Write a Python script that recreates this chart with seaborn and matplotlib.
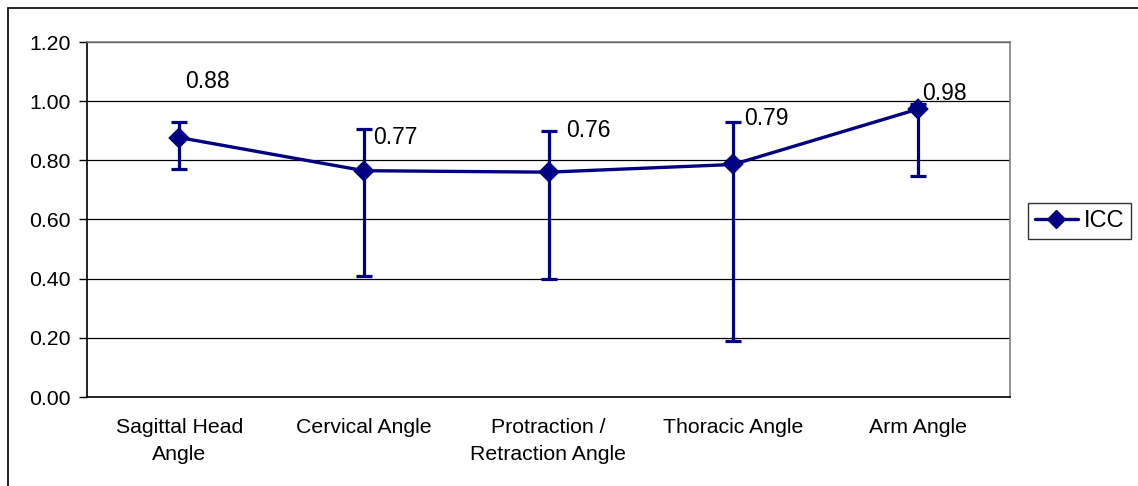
import numpy as np
import pandas as pd
import matplotlib.pyplot as plt
import seaborn as sns
from matplotlib.lines import Line2D
from matplotlib.patches import Rectangle

# data
categories = ["Sagittal Head\nAngle", "Cervical Angle", "Protraction /\nRetraction Angle",
              "Thoracic Angle", "Arm Angle"]
icc = [0.877, 0.765, 0.760, 0.786, 0.973]
ci_lower = [0.770, 0.410, 0.400, 0.190, 0.746]
ci_upper = [0.930, 0.905, 0.900, 0.928, 0.990]
value_labels = ["0.88", "0.77", "0.76", "0.79", "0.98"]

navy = "#000080"

sns.set_style("white")
plt.rcParams['font.family'] = ['Liberation Sans', 'DejaVu Sans']
plt.rcParams['text.color'] = 'black'
plt.rcParams['xtick.color'] = 'black'
plt.rcParams['ytick.color'] = 'black'

fig = plt.figure(figsize=(11.38, 4.86), dpi=100)
ax = fig.add_axes([87 / 1138, 1 - 397 / 486, (1010 - 87) / 1138, (397 - 42) / 486])

df = pd.DataFrame({"cat": categories, "icc": icc})
sns.pointplot(data=df, x="cat", y="icc", color=navy, markers="D", markersize=9,
              linewidth=2.4, errorbar=None, ax=ax, zorder=4)

pos = np.arange(len(categories))
yerr = [np.array(icc) - np.array(ci_lower), np.array(ci_upper) - np.array(icc)]
ax.errorbar(pos, icc, yerr=yerr, fmt="none", ecolor=navy, elinewidth=2.3,
            capsize=6, capthick=2.3, zorder=3)

# data labels
offsets = [(20, 40), (7, 24), (13, 30), (8, 33), (3, 11)]
for i, (lab, off) in enumerate(zip(value_labels, offsets)):
    ha = "center" if i == 0 else "left"
    ax.annotate(lab, (pos[i], icc[i]), xytext=off,
                textcoords="offset points", ha=ha, va="center", fontsize=16.5, color="black")

ax.set_ylim(0, 1.2)
ax.set_xlim(-0.5, 4.5)
ax.set_yticks(np.arange(0, 1.21, 0.2))
ax.set_yticklabels([f"{v:.2f}" for v in np.arange(0, 1.21, 0.2)], fontsize=15.3)
ax.set_xticks(pos)
ax.set_xticklabels(categories, fontsize=15.3, linespacing=1.55)
ax.set_xticks(np.arange(-0.5, 5, 1), minor=True)
ax.tick_params(axis="x", which="major", length=0, pad=15)
ax.tick_params(axis="x", which="minor", length=6, width=1, color="black", direction="out")
ax.tick_params(axis="y", length=6, width=1, color="black", direction="out", pad=6, left=True)
ax.set_xlabel("")
ax.set_ylabel("")

ax.grid(axis="y", color="black", linewidth=0.9)
ax.grid(axis="x", visible=False)
ax.set_axisbelow(True)
for side in ["left", "bottom"]:
    ax.spines[side].set_color("black")
    ax.spines[side].set_linewidth(1.2)
for side in ["top", "right"]:
    ax.spines[side].set_color("#808080")
    ax.spines[side].set_linewidth(1.2)

handle = Line2D([], [], color=navy, marker="D", markersize=9, linewidth=2.4)
leg = fig.legend([handle], ["ICC"], loc="center left", bbox_to_anchor=(1028 / 1138, 1 - 221 / 486),
                 fontsize=17, frameon=True, fancybox=False, edgecolor="black",
                 handlelength=1.8, handletextpad=0.25, borderpad=0.3, borderaxespad=0)
leg.get_frame().set_linewidth(1.0)

# outer chart-area border
fig.patches.append(Rectangle((8 / 1138, -0.1), 1.2, 1 - 8 / 486 + 0.1, transform=fig.transFigure,
                             fill=False, edgecolor="black", linewidth=1.2))

plt.savefig("out.png", dpi=100)
